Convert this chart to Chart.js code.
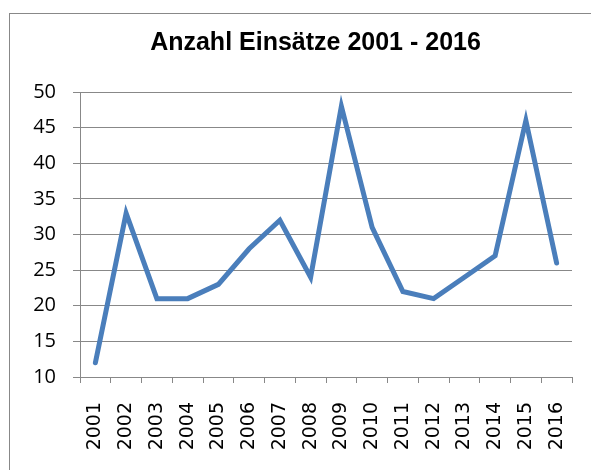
<!DOCTYPE html>
<html>
<head>
<meta charset="utf-8">
<script src="https://cdn.jsdelivr.net/npm/chart.js@4"></script>
<style>
  html, body { margin: 0; padding: 0; background: #fff; }
  #wrap { width: 591px; height: 470px; position: relative; }
</style>
</head>
<body>
<div id="wrap"><canvas id="chart"></canvas></div>
<script>
// data
var years = ['2001', '2002', '2003', '2004', '2005', '2006', '2007', '2008',
             '2009', '2010', '2011', '2012', '2013', '2014', '2015', '2016'];
var einsaetze = [12, 33, 21, 21, 23, 28, 32, 24, 48, 31, 22, 21, 24, 27, 46, 26];
var titleText = 'Anzahl Einsätze 2001 - 2016';
var yMin = 10, yMax = 50, yStep = 5;

var gridGray = '#888888';

// outer frame like the office chart box, and nudge the title to its spot
var framePlugin = {
    id: 'frame',
    afterLayout: function(chart) {
        if (chart.titleBlock) {
            chart.titleBlock.left += 26;
        }
    },
    beforeDraw: function(chart) {
        var ctx = chart.ctx;
        ctx.save();
        ctx.strokeStyle = gridGray;
        ctx.lineWidth = 1;
        ctx.strokeRect(9.5, 13.5, 700, 700);
        ctx.restore();
    }
};

var ctx = document.getElementById('chart').getContext('2d');
var chart = new Chart(ctx, {
    type: 'line',
    data: {
        labels: years,
        datasets: [{
            label: 'Einsätze',
            data: einsaetze,
            borderColor: '#4A7EBB',
            backgroundColor: '#4A7EBB',
            borderWidth: 5,
            pointRadius: 0,
            tension: 0,
            fill: false,
            borderJoinStyle: 'miter',
            borderCapStyle: 'round'
        }]
    },
    options: {
        responsive: true,
        maintainAspectRatio: false,
        animation: false,
        layout: { padding: { left: 33, right: 19, top: 0, bottom: 0 } },
        plugins: {
            legend: { display: false },
            tooltip: { enabled: false },
            title: {
                display: true,
                text: titleText,
                color: '#000',
                font: { family: '"Liberation Sans", Arial, sans-serif', size: 25, weight: 'bold' },
                padding: { top: 28, bottom: 34 }
            }
        },
        scales: {
            x: {
                offset: true,
                afterFit: function(scale) { scale.height = 93; scale.paddingRight = 0; },
                grid: {
                    offset: true,
                    drawOnChartArea: false,
                    drawTicks: true,
                    tickLength: 6,
                    color: gridGray
                },
                border: { display: true, color: gridGray },
                ticks: {
                    minRotation: 90,
                    maxRotation: 90,
                    autoSkip: false,
                    padding: 19,
                    color: '#000',
                    font: { family: '"DejaVu Sans", Verdana, sans-serif', size: 19 }
                }
            },
            y: {
                min: yMin,
                max: yMax,
                afterFit: function(scale) { scale.width = 47; },
                grid: {
                    color: gridGray,
                    tickLength: 7,
                    drawTicks: true
                },
                border: { display: true, color: gridGray },
                ticks: {
                    stepSize: yStep,
                    padding: 17,
                    color: '#000',
                    font: { family: '"Open Sans", sans-serif', size: 20 }
                }
            }
        }
    },
    plugins: [framePlugin]
});
</script>
</body>
</html>
